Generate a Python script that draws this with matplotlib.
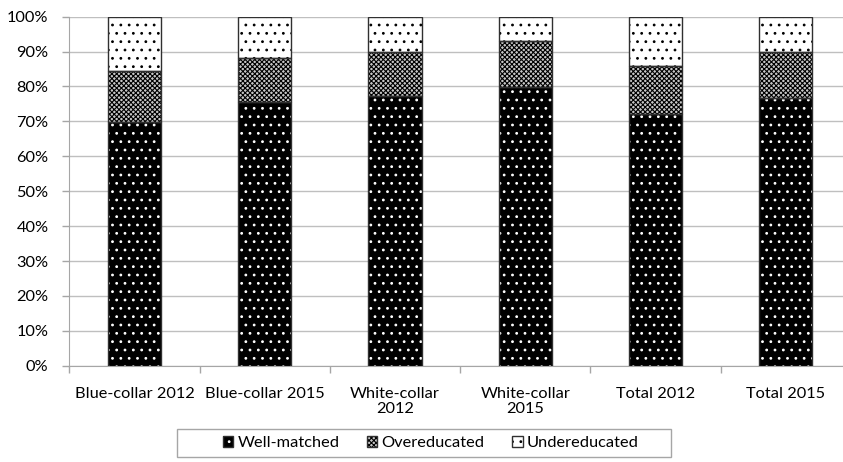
import matplotlib
matplotlib.use("Agg")
import matplotlib.pyplot as plt
from matplotlib.patches import Patch, Rectangle
from matplotlib.legend_handler import HandlerTuple
import numpy as np

categories = ["Blue-collar 2012", "Blue-collar 2015", "White-collar\n2012",
              "White-collar\n2015", "Total 2012", "Total 2015"]
well_matched = [69.7, 75.6, 77.4, 79.8, 72.1, 76.6]
overeducated = [14.7, 12.7, 12.4, 13.2, 13.8, 13.2]
undereducated = [100 - w - o for w, o in zip(well_matched, overeducated)]
yticks = [0, 10, 20, 30, 40, 50, 60, 70, 80, 90, 100]
series_names = ["Well-matched", "Overeducated", "Undereducated"]

plt.rcParams['font.family'] = ['Lato', 'DejaVu Sans']
plt.rcParams['hatch.linewidth'] = 0.8

W, H = 843, 462
fig = plt.figure(figsize=(W / 100, H / 100), dpi=100)
ax = fig.add_axes([0.0822, 0.2084, 0.9273, 0.7555])

x = np.arange(len(categories))
w = 0.407
edge = '#303030'
fs = 11.8

styles = [
    dict(color='black', edgecolor='white', hatch='..'),
    dict(color='#c8c8c8', edgecolor='black', hatch='xxxxxxx'),
    dict(color='white', edgecolor='black', hatch='..'),
]

bottom = np.zeros(len(categories))
for vals, st in zip([well_matched, overeducated, undereducated], styles):
    ax.bar(x, vals, w, bottom=bottom, linewidth=0, zorder=3, **st)
    ax.bar(x, vals, w, bottom=bottom, fill=False, edgecolor=edge, linewidth=1, zorder=4)
    bottom = bottom + np.array(vals)

ax.set_xlim(-0.5, len(categories) - 0.5)
ax.set_ylim(0, 100)
ax.set_yticks(yticks)
ax.set_yticklabels([f"{t}%" for t in yticks])
ax.set_xticks(x)
ax.set_xticklabels(categories, linespacing=1.1)
ax.set_xticks(np.arange(-0.5, len(categories), 1), minor=True)
ax.tick_params(axis='x', which='major', length=0, pad=15, labelsize=fs, colors='black')
ax.tick_params(axis='x', which='minor', length=5, color='#A6A6A6', width=1)
ax.tick_params(axis='y', length=5, color='#A6A6A6', width=1, pad=10, labelsize=fs)

ax.grid(axis='y', color='#BFBFBF', linewidth=1, zorder=0)
ax.set_axisbelow(True)
for s in ['top', 'right']:
    ax.spines[s].set_visible(False)
ax.spines['left'].set_color('#A6A6A6')
ax.spines['bottom'].set_color('#A6A6A6')

handles = []
for st in styles:
    fillp = Patch(facecolor=st['color'], edgecolor=st['edgecolor'], hatch=st['hatch'], linewidth=0)
    outl = Patch(fill=False, edgecolor=edge, linewidth=1)
    handles.append((fillp, outl))
leg = fig.legend(handles, series_names, loc='center left',
                 bbox_to_anchor=(210 / W, 1 - 443 / H),
                 ncol=3, frameon=False, fontsize=fs,
                 handler_map={tuple: HandlerTuple(ndivide=1, pad=0)},
                 handlelength=0.62, handleheight=0.62, handletextpad=0.25,
                 columnspacing=1.7, borderpad=0.3)
fig.patches.append(Rectangle((177 / W, 1 - 457 / H), (671 - 177) / W, 28 / H,
                             transform=fig.transFigure, fill=False,
                             edgecolor='#A6A6A6', linewidth=1))

fig.savefig("out.png", dpi=100)
